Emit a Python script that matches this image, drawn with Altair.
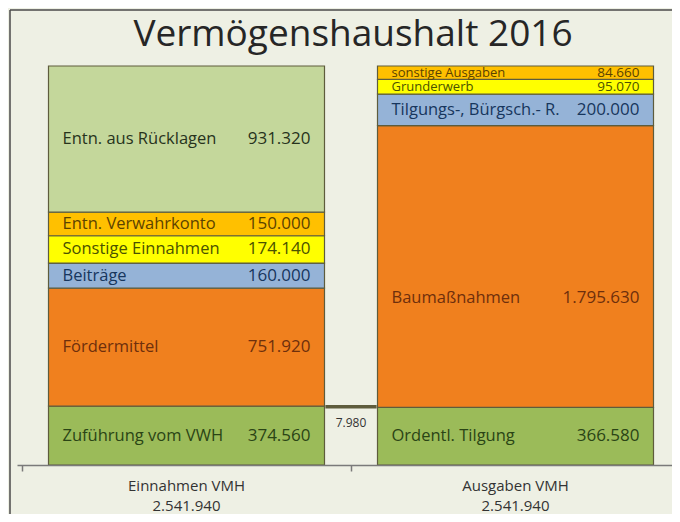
import altair as alt
import pandas as pd

# ---------------- data ----------------
title_text = "Vermögenshaushalt 2016"

column_names = ["Einnahmen VMH", "Ausgaben VMH"]
column_totals = [2541940, 2541940]

income_labels = ["Zuführung vom VWH", "Fördermittel", "Beiträge",
                 "Sonstige Einnahmen", "Entn. Verwahrkonto", "Entn. aus Rücklagen"]
income_values = [374560, 751920, 160000, 174140, 150000, 931320]
income_kinds = ["green", "orange", "blue", "yellow", "gold", "sage"]

spending_labels = ["Ordentl. Tilgung", "Baumaßnahmen", "Tilgungs-, Bürgsch.- R.",
                   "Grunderwerb", "sonstige Ausgaben"]
spending_values = [366580, 1795630, 200000, 95070, 84660]
spending_kinds = ["green", "orange", "blue", "yellow", "gold"]

balance_base = 366580   # Ordentl. Tilgung
balance_value = 7980    # Zuführung vom VWH - Ordentl. Tilgung

# ---------------- styles ----------------
fill_colors = {"sage": "#c4d79b", "gold": "#ffc000", "yellow": "#ffff00",
               "blue": "#95b3d7", "orange": "#f0801e", "green": "#9bbb59"}
text_colors = {"sage": "#27331c", "gold": "#5c4300", "yellow": "#4a5200",
               "blue": "#17365d", "orange": "#6e2f0c", "green": "#2a4415"}
FONT = "Open Sans"
BG = "#eef0e4"
EDGE = "#5e5c3c"


def de(n):
    return f"{n:,}".replace(",", ".")


rows = []
for ci, (labels, values, kinds) in enumerate(
        [(income_labels, income_values, income_kinds),
         (spending_labels, spending_values, spending_kinds)]):
    base = 0
    for lab, val, kind in zip(labels, values, kinds):
        rows.append(dict(pos=ci + 0.5, y0=base, y1=base + val, mid=base + val / 2,
                         label=lab, value=de(val), fill=fill_colors[kind],
                         tcol=text_colors[kind], small=val < 100000,
                         shifted=(kind == "orange" and ci == 1)))
        base += val
segs = pd.DataFrame(rows)

cats = pd.DataFrame({"pos": [i + 0.5 for i in range(len(column_names))],
                     "name": column_names,
                     "total": [de(t) for t in column_totals]})

balance = pd.DataFrame({"pos": [1.0], "y0": [balance_base],
                        "y1": [balance_base + balance_value],
                        "value": [de(balance_value)]})

frame_df = pd.DataFrame({"title": [title_text]})

xscale = alt.Scale(domain=[0, len(column_names)], range=[0, 668], nice=False, zero=False)
yscale = alt.Scale(domain=[0, max(column_totals)], nice=False)

X = alt.X("pos:Q", scale=xscale,
          axis=alt.Axis(values=[0, 1, 2], labels=False, title=None, grid=False,
                        domainColor="#7a7a7a", tickColor="#7a7a7a", tickSize=6,
                        domainWidth=1.5, tickWidth=1.5, zindex=1))

base_seg = alt.Chart(segs)

frame_left = alt.Chart(frame_df).mark_rule(color="#4a4a4a", strokeWidth=1.5).encode(
    x=alt.value(-7), y=alt.value(-56), y2=alt.value(450))
frame_top = alt.Chart(frame_df).mark_rule(color="#4a4a4a", strokeWidth=1.5).encode(
    x=alt.value(-7), x2=alt.value(660), y=alt.value(-56))

title = alt.Chart(frame_df).mark_text(font=FONT, fontSize=37, color="#262626",
                                      baseline="alphabetic", align="center").encode(
    x=alt.value(336), y=alt.value(-20), text="title:N")

bars = base_seg.mark_bar(width=276, stroke=EDGE, strokeWidth=1.2).encode(
    x=X,
    y=alt.Y("y0:Q", scale=yscale, axis=None),
    y2="y1:Q",
    fill=alt.Fill("fill:N", scale=None),
)

bal_bar = alt.Chart(balance).mark_bar(width=49, stroke=EDGE, strokeWidth=2.2,
                                      fill=fill_colors["green"]).encode(
    x=alt.X("pos:Q", scale=xscale), y=alt.Y("y0:Q", scale=yscale), y2="y1:Q")

bal_text = alt.Chart(balance).mark_text(font=FONT, fontSize=12, color="#333333",
                                        dy=16, baseline="middle").encode(
    x=alt.X("pos:Q", scale=xscale), y=alt.Y("y0:Q", scale=yscale), text="value:N")

lab_size = alt.condition("datum.small", alt.value(13), alt.value(16.5))
val_size = alt.condition("datum.small", alt.value(13.5), alt.value(17))

lab_plain = base_seg.transform_filter("!datum.shifted").mark_text(
    font=FONT, align="left", baseline="middle", dx=-124).encode(
    x=alt.X("pos:Q", scale=xscale), y=alt.Y("mid:Q", scale=yscale), text="label:N",
    color=alt.Color("tcol:N", scale=None), size=lab_size)

val_plain = base_seg.transform_filter("!datum.shifted").mark_text(
    font=FONT, align="right", baseline="middle", dx=124).encode(
    x=alt.X("pos:Q", scale=xscale), y=alt.Y("mid:Q", scale=yscale), text="value:N",
    color=alt.Color("tcol:N", scale=None), size=val_size)

lab_shift = base_seg.transform_filter("datum.shifted").mark_text(
    font=FONT, align="left", baseline="middle", dx=-124, dy=31, fontSize=16.5).encode(
    x=alt.X("pos:Q", scale=xscale), y=alt.Y("mid:Q", scale=yscale), text="label:N",
    color=alt.Color("tcol:N", scale=None))

val_shift = base_seg.transform_filter("datum.shifted").mark_text(
    font=FONT, align="right", baseline="middle", dx=124, dy=31, fontSize=17).encode(
    x=alt.X("pos:Q", scale=xscale), y=alt.Y("mid:Q", scale=yscale), text="value:N",
    color=alt.Color("tcol:N", scale=None))

cat_name = alt.Chart(cats).mark_text(font=FONT, fontSize=15, color="#333333",
                                     baseline="middle").encode(
    x=alt.X("pos:Q", scale=xscale), y=alt.value(420), text="name:N")
cat_total = alt.Chart(cats).mark_text(font=FONT, fontSize=15, color="#333333",
                                      baseline="middle").encode(
    x=alt.X("pos:Q", scale=xscale), y=alt.value(440), text="total:N")

chart = alt.layer(frame_left, frame_top, title, bars, bal_bar, bal_text,
                  lab_plain, val_plain, lab_shift, val_shift,
                  cat_name, cat_total).properties(
    width=655, height=399, background=BG,
    padding={"left": 9, "top": 58, "right": 0, "bottom": 49},
    autosize=alt.AutoSizeParams(type="none"),
).configure_view(strokeWidth=0)

chart.save("out.html", embed_options={"renderer": "svg", "actions": False})
